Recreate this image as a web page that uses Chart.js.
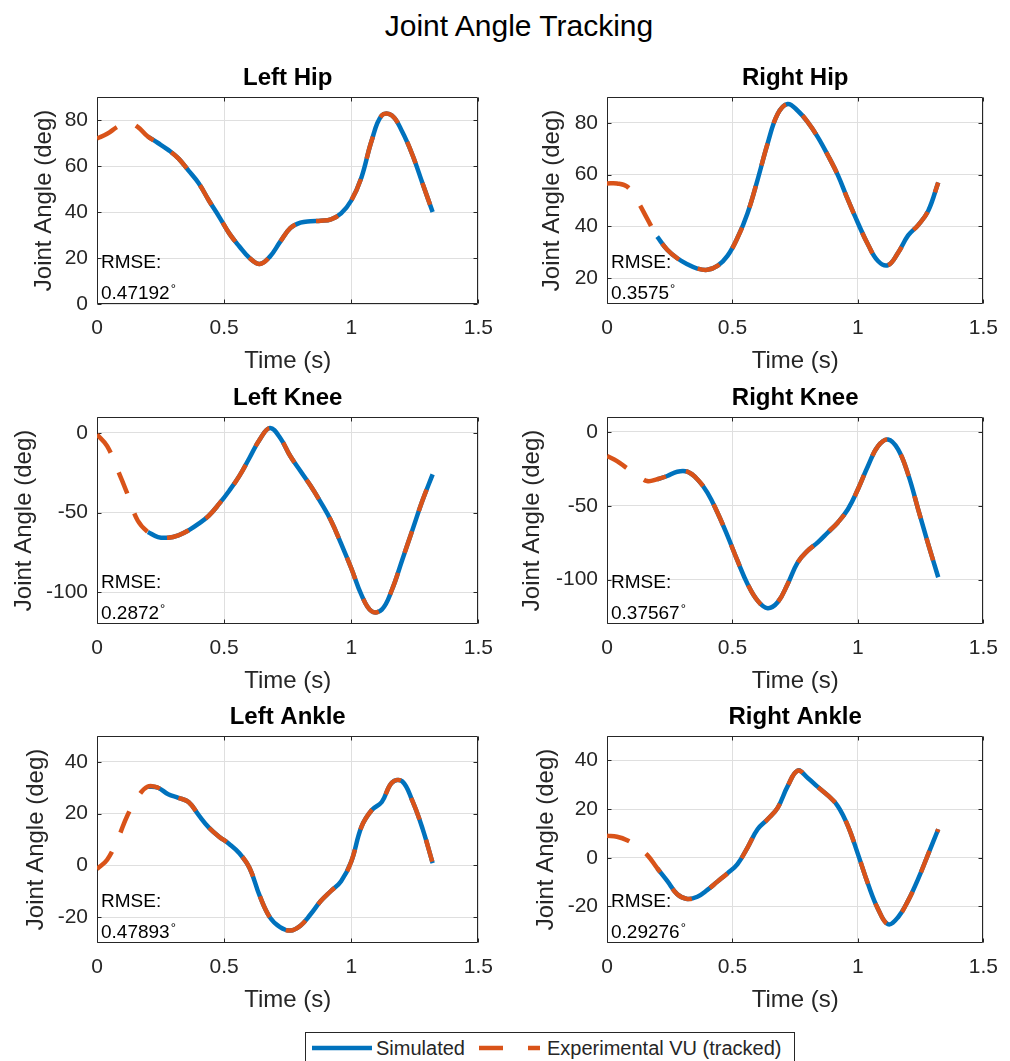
<!DOCTYPE html>
<html>
<head>
<meta charset="utf-8">
<title>Joint Angle Tracking</title>
<script src="https://cdn.jsdelivr.net/npm/chart.js@4/dist/chart.umd.min.js"></script>
<style>
  html, body { margin: 0; padding: 0; background: #fff; overflow: hidden; }
  #fig { position: relative; width: 1010px; height: 1061px; font-family: "Liberation Sans", Arial, sans-serif; }
  #fig canvas { position: absolute; }
  #suptitle { position: absolute; left: 319px; top: 9px; width: 400px; text-align: center; font-size: 30px; line-height: 34px; color: #000; }
  #legend { position: absolute; left: 305px; top: 1032px; width: 488px; height: 40px; border: 1px solid #262626; background: #fff; }
  #legend svg { position: absolute; left: 0; top: 0; }
  #legend span { position: absolute; top: 5px; font-size: 20px; line-height: 20px; color: #262626; white-space: nowrap; }
</style>
</head>
<body>
<div id="fig">
  <div id="suptitle">Joint Angle Tracking</div>
  <div id="legend">
    <svg width="488" height="40">
      <line x1="6" y1="15" x2="66" y2="15" stroke="#0072BD" stroke-width="4.5" />
      <line x1="173" y1="15" x2="234" y2="15" stroke="#D95319" stroke-width="4.5" stroke-dasharray="24 25" />
    </svg>
    <span style="left:70px">Simulated</span>
    <span style="left:241px">Experimental VU (tracked)</span>
  </div>
</div>
<script>
// joint angles over one gait cycle, simulated vs. tracked experimental data

const BLUE = '#0072BD'
const ORANGE = '#D95319'
const AXIS_COLOR = '#262626'
const GRID_COLOR = '#dfdfdf'
const TICK_LEN = 4
const LINE_WIDTH = 4.5

// time samples (s)
const TIME_EXP = [0, 0.04, 0.08, 0.12, 0.16, 0.2, 0.24, 0.28, 0.32, 0.36, 0.4, 0.44, 0.48, 0.52, 0.56, 0.6, 0.64,
  0.68, 0.72, 0.76, 0.8, 0.84, 0.88, 0.92, 0.96, 1.0, 1.04, 1.08, 1.12, 1.16, 1.2, 1.24, 1.28, 1.32]
const TIME_SIM = [0.2, 0.24, 0.28, 0.32, 0.36, 0.4, 0.44, 0.48, 0.52, 0.56, 0.6, 0.64,
  0.68, 0.72, 0.76, 0.8, 0.84, 0.88, 0.92, 0.96, 1.0, 1.04, 1.08, 1.12, 1.16, 1.2, 1.24, 1.28, 1.32]

const X_TICKS = [0, 0.5, 1, 1.5]
const X_TICK_LABELS = ['0', '0.5', '1', '1.5']

// experimental (tracked) angles, deg
const LEFT_HIP_EXP = [72, 74, 77, 79, 77, 72.8, 70, 67, 63.3, 58, 52.5, 45, 38, 30.7, 25, 20, 17.4,
  20.6, 27, 33, 35.4, 36, 36.2, 36.8, 39.4, 45, 55, 71, 82, 82, 75, 65, 52.5, 40]
const RIGHT_HIP_EXP = [56.6, 56.6, 55.4, 50, 43, 36, 31, 27.7, 25.4, 23.7, 23.2, 24.7, 28.6, 35.6, 45.1, 58, 72,
  83.4, 87.3, 84.7, 80.3, 74.5, 67.5, 59.8, 50.3, 41.3, 33, 26.6, 25, 29.8, 36.5, 40.5, 46, 57]
const LEFT_KNEE_EXP = [-1, -8.3, -22.8, -38.4, -55, -62.2, -65.4, -65.8, -64.3, -61.2, -57, -51.9, -44.6, -36.3, -27, -15.6, -4.1,
  3.1, -3, -14.5, -23.9, -33.2, -43.6, -55, -69.5, -85, -101.7, -112, -111, -98.5, -79.9, -61.2, -42.5, -26]
const RIGHT_KNEE_EXP = [-16.4, -19.8, -24.7, -29, -33.3, -32.1, -29.9, -27, -27, -32.1, -41.1, -54.6, -70.3, -87.2, -102.9, -114.2, -119.3,
  -115.3, -102.9, -88.3, -80.4, -74.8, -68.1, -61.3, -52.4, -38.9, -23.1, -9.7, -5.2, -11.9, -28.8, -52.4, -76, -98.4]
const LEFT_ANKLE_EXP = [-1.4, 2.2, 9.8, 19.4, 26.4, 30.5, 30, 27.5, 26.1, 24.5, 19.4, 14.6, 11.1, 8.3, 4.7, -1, -11.8,
  -20.1, -23.9, -25.2, -23.3, -18.9, -13.8, -9.9, -6.1, 1.5, 14.9, 21.3, 24.5, 32, 32.5, 25, 14.3, 0.9]
const RIGHT_ANKLE_EXP = [9, 8.6, 7.2, 4.5, 1.2, -4.3, -9.5, -15, -16.9, -16, -13.2, -9.8, -6.4, -2.6, 4.2, 11.7, 15.8,
  20.5, 29.4, 35.8, 32.8, 29.1, 25.6, 21.2, 13.1, 1.5, -10.7, -21, -27.3, -24.4, -17.6, -8.7, 1.5, 11.7]

// simulated angles, deg
const LEFT_HIP_SIM = [72.8, 70, 67, 63.3, 58, 52.5, 45, 38, 30.7, 25, 20, 17.4,
  20.6, 27, 33, 35.4, 36, 36.2, 36.8, 39.4, 45, 55, 71, 82, 82, 75, 65, 52.5, 40]
const RIGHT_HIP_SIM = [36, 31, 27.7, 25.4, 23.7, 23.2, 24.7, 28.6, 35.6, 45.1, 58, 72,
  83.4, 87.3, 84.7, 80.3, 74.5, 67.5, 59.8, 50.3, 41.3, 33, 26.6, 25, 29.8, 36.5, 40.5, 46, 57]
const LEFT_KNEE_SIM = [-62.2, -65.4, -65.8, -64.3, -61.2, -57, -51.9, -44.6, -36.3, -27, -15.6, -4.1,
  3.1, -3, -14.5, -23.9, -33.2, -43.6, -55, -69.5, -85, -101.7, -112, -111, -98.5, -79.9, -61.2, -42.5, -26]
const RIGHT_KNEE_SIM = [-32.1, -29.9, -27, -27, -32.1, -41.1, -54.6, -70.3, -87.2, -102.9, -114.2, -119.3,
  -115.3, -102.9, -88.3, -80.4, -74.8, -68.1, -61.3, -52.4, -38.9, -23.1, -9.7, -5.2, -11.9, -28.8, -52.4, -76, -98.4]
const LEFT_ANKLE_SIM = [30.5, 30, 27.5, 26.1, 24.5, 19.4, 14.6, 11.1, 8.3, 4.7, -1, -11.8,
  -20.1, -23.9, -25.2, -23.3, -18.9, -13.8, -9.9, -6.1, 1.5, 14.9, 21.3, 24.5, 32, 32.5, 25, 14.3, 0.9]
const RIGHT_ANKLE_SIM = [-4.3, -9.5, -15, -16.9, -16, -13.2, -9.8, -6.4, -2.6, 4.2, 11.7, 15.8,
  20.5, 29.4, 35.8, 32.8, 29.1, 25.6, 21.2, 13.1, 1.5, -10.7, -21, -27.3, -24.4, -17.6, -8.7, 1.5, 11.7]

const RMSE_LABELS = ['0.47192', '0.3575', '0.2872', '0.37567', '0.47893', '0.29276']

const Y_LIMITS = [[0, 90], [10, 90], [-120, 10], [-130, 10], [-30, 50], [-35, 50]]
const Y_TICKS = [
  [0, 20, 40, 60, 80],
  [20, 40, 60, 80],
  [-100, -50, 0],
  [-100, -50, 0],
  [-20, 0, 20, 40],
  [-20, 0, 20, 40],
]

const PANELS = [
  { title: 'Left Hip', exp: LEFT_HIP_EXP, sim: LEFT_HIP_SIM, col: 0, row: 0, yTitlePad: 30 },
  { title: 'Right Hip', exp: RIGHT_HIP_EXP, sim: RIGHT_HIP_SIM, col: 1, row: 0, yTitlePad: 28 },
  { title: 'Left Knee', exp: LEFT_KNEE_EXP, sim: LEFT_KNEE_SIM, col: 0, row: 1, yTitlePad: 10 },
  { title: 'Right Knee', exp: RIGHT_KNEE_EXP, sim: RIGHT_KNEE_SIM, col: 1, row: 1, yTitlePad: 8 },
  { title: 'Left Ankle', exp: LEFT_ANKLE_EXP, sim: LEFT_ANKLE_SIM, col: 0, row: 2, yTitlePad: 22 },
  { title: 'Right Ankle', exp: RIGHT_ANKLE_EXP, sim: RIGHT_ANKLE_SIM, col: 1, row: 2, yTitlePad: 22 },
]

// canvas placement for the 3x2 grid
const COL_LEFT = [0, 510]
const COL_WIDTH = [505, 500]
const COL_PAD_RIGHT = [23, 18]
const ROW_TOP = [65, 385, 704]
const CANVAS_HEIGHT = 315

const toPoints = (times, values) => values.map((v, i) => ({ x: times[i], y: v }))

// box around the axes, inward tick marks and the RMSE note
const axesFrame = {
  id: 'axesFrame',
  beforeDatasetsDraw(chart) {
    const { ctx, chartArea: a, scales } = chart
    const left = Math.round(a.left) + 0.5
    const right = Math.round(a.right) - 0.5
    const top = Math.round(a.top) + 0.5
    const bottom = Math.round(a.bottom) - 0.5
    ctx.save()
    ctx.strokeStyle = AXIS_COLOR
    ctx.lineWidth = 1
    ctx.beginPath()
    scales.x.ticks.forEach(t => {
      const px = Math.round(scales.x.getPixelForValue(t.value)) + 0.5
      ctx.moveTo(px, top)
      ctx.lineTo(px, top + TICK_LEN)
      ctx.moveTo(px, bottom)
      ctx.lineTo(px, bottom - TICK_LEN)
    })
    scales.y.ticks.forEach(t => {
      const py = Math.round(scales.y.getPixelForValue(t.value)) + 0.5
      ctx.moveTo(left, py)
      ctx.lineTo(left + TICK_LEN, py)
      ctx.moveTo(right, py)
      ctx.lineTo(right - TICK_LEN, py)
    })
    ctx.rect(left, top, right - left, bottom - top)
    ctx.stroke()
    ctx.restore()
  },
  afterDatasetsDraw(chart, args, opts) {
    const { ctx, chartArea: a } = chart
    const x = a.left + 4
    ctx.save()
    ctx.fillStyle = '#000'
    ctx.font = '19px "Liberation Sans", Arial, sans-serif'
    ctx.textAlign = 'left'
    ctx.textBaseline = 'middle'
    ctx.fillText('RMSE:', x, a.bottom - 41)
    ctx.fillText(opts.rmse, x, a.bottom - 10)
    const w = ctx.measureText(opts.rmse).width
    ctx.font = '13px "Liberation Sans", Arial, sans-serif'
    ctx.textBaseline = 'alphabetic'
    ctx.fillText('\u00B0', x + w + 1, a.bottom - 11)
    ctx.restore()
  },
}

Chart.defaults.font.family = '"Liberation Sans", Arial, sans-serif'

const main = () => {
  const fig = document.querySelector('#fig')

  PANELS.forEach((p, i) => {
    const canvas = document.createElement('canvas')
    canvas.width = COL_WIDTH[p.col]
    canvas.height = CANVAS_HEIGHT
    canvas.style.left = COL_LEFT[p.col] + 'px'
    canvas.style.top = ROW_TOP[p.row] + 'px'
    fig.appendChild(canvas)

    const yTicks = Y_TICKS[i]

    new Chart(canvas.getContext('2d'), {
      type: 'line',
      data: {
        datasets: [
          {
            label: 'Experimental VU (tracked)',
            data: toPoints(TIME_EXP, p.exp),
            borderColor: ORANGE,
            borderWidth: LINE_WIDTH,
            borderDash: [23, 21],
            pointRadius: 0,
            tension: 0.4,
            fill: false,
          },
          {
            label: 'Simulated',
            data: toPoints(TIME_SIM, p.sim),
            borderColor: BLUE,
            borderWidth: LINE_WIDTH,
            pointRadius: 0,
            tension: 0.4,
            fill: false,
          },
        ],
      },
      options: {
        responsive: false,
        animation: false,
        devicePixelRatio: 1,
        layout: { padding: { left: 0, right: COL_PAD_RIGHT[p.col], top: 0, bottom: 0 } },
        plugins: {
          legend: { display: false },
          tooltip: { enabled: false },
          title: {
            display: true,
            text: p.title,
            fullSize: false,
            color: '#000',
            font: { size: 24, weight: 'bold', lineHeight: '26px' },
            padding: { top: 0, bottom: 6 },
          },
          axesFrame: { rmse: RMSE_LABELS[i] },
        },
        scales: {
          x: {
            type: 'linear',
            min: 0,
            max: 1.5,
            afterBuildTicks: s => { s.ticks = X_TICKS.map(v => ({ value: v })) },
            afterFit: s => { s.height = 76 },
            grid: { color: GRID_COLOR, drawTicks: false },
            border: { display: false },
            ticks: {
              padding: 12,
              color: AXIS_COLOR,
              font: { size: 21 },
              maxRotation: 0,
              callback: (v, idx) => X_TICK_LABELS[idx],
            },
            title: {
              display: true,
              text: 'Time (s)',
              color: AXIS_COLOR,
              font: { size: 24 },
              padding: { top: 0, bottom: 4 },
            },
          },
          y: {
            type: 'linear',
            min: Y_LIMITS[i][0],
            max: Y_LIMITS[i][1],
            afterBuildTicks: s => { s.ticks = yTicks.map(v => ({ value: v })) },
            afterFit: s => { s.width = 97 },
            grid: { color: GRID_COLOR, drawTicks: false },
            border: { display: false },
            ticks: {
              padding: 9,
              color: AXIS_COLOR,
              font: { size: 21 },
              callback: v => String(v),
            },
            title: {
              display: true,
              text: 'Joint Angle (deg)',
              color: AXIS_COLOR,
              font: { size: 24 },
              padding: { top: p.yTitlePad, bottom: 0 },
            },
          },
        },
      },
      plugins: [axesFrame],
    })
  })
}

window.addEventListener('load', main)
</script>
</body>
</html>
